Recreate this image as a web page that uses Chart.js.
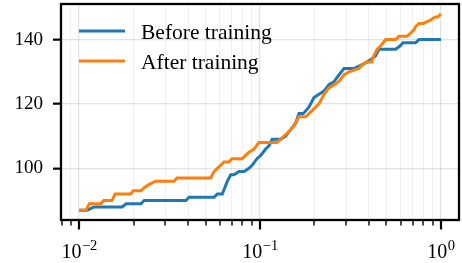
<!DOCTYPE html>
<html><head><meta charset="utf-8">
<script src="https://cdn.jsdelivr.net/npm/chart.js@4/dist/chart.umd.min.js"></script>
<style>html,body{margin:0;padding:0;background:#fff}</style>
</head><body>
<canvas id="c" width="462" height="263"></canvas>
<script>
const seriesNames = ['Before training', 'After training'];
const seriesColors = ['#1f77b4', '#ff7f0e'];

const beforeX = [0.01, 0.0111, 0.0121, 0.0173, 0.0182, 0.022, 0.0229, 0.039, 0.0405, 0.0557,
  0.0581, 0.0619, 0.066, 0.0689, 0.0718, 0.0766, 0.0816, 0.0869, 0.0907, 0.0962,
  0.1009, 0.1075, 0.1121, 0.1169, 0.1301, 0.1387, 0.1477, 0.1574, 0.1642, 0.1736,
  0.1862, 0.1988, 0.2118, 0.2257, 0.2405, 0.2571, 0.2732, 0.2911, 0.3306, 0.36,
  0.39, 0.4141, 0.4357, 0.4544, 0.562, 0.594, 0.617, 0.7246, 0.756, 1.0];
const beforeY = [87, 87, 88, 88, 89, 89, 90, 90, 91, 91,
  92, 92, 96, 98, 98, 99, 99, 100, 101, 103,
  104, 106, 107, 109, 109, 110, 112, 114, 117, 117,
  119, 122, 123, 124, 126, 127, 129, 131, 131, 132,
  133, 134, 135, 137, 137, 138, 139, 139, 140, 140];

const afterX = [0.01, 0.0109, 0.0114, 0.0132, 0.0137, 0.0152, 0.0158, 0.0193, 0.0199, 0.022,
  0.0229, 0.0244, 0.0265, 0.0335, 0.0348, 0.0534, 0.0557, 0.0581, 0.0607, 0.0633,
  0.0674, 0.07, 0.0798, 0.0869, 0.0927, 0.0985, 0.1241, 0.1357, 0.1477, 0.1574,
  0.1642, 0.1789, 0.1945, 0.2118, 0.2257, 0.2405, 0.2571, 0.2732, 0.2911, 0.3102,
  0.3524, 0.3647, 0.3886, 0.4141, 0.4264, 0.4447, 0.4643, 0.4949, 0.562, 0.586,
  0.649, 0.68, 0.709, 0.7246, 0.756, 0.80, 0.8725, 0.93, 0.96, 1.0];
const afterY = [87, 87, 89, 89, 90, 90, 92, 92, 93, 93,
  94, 95, 96, 96, 97, 97, 99, 100, 101, 102,
  102, 103, 103, 105, 106, 108, 108, 110, 112, 114,
  116, 116, 118, 120, 123, 125, 126, 127, 129, 130,
  131, 132, 133, 133, 135, 137, 138, 140, 140, 141,
  141, 142, 143, 144, 145, 145, 146, 147, 147, 148];

const xTickValues = [0.008, 0.009, 0.01, 0.02, 0.03, 0.04, 0.05, 0.06, 0.07, 0.08, 0.09,
  0.1, 0.2, 0.3, 0.4, 0.5, 0.6, 0.7, 0.8, 0.9, 1];
const xMajorValues = [0.01, 0.1, 1];
const xMajorBase = '10';
const xMajorExponents = ['\u22122', '\u22121', '0'];
const yTickValues = [100, 120, 140];

const FONT = 'Liberation Serif';
Chart.defaults.font.family = FONT;
Chart.defaults.font.size = 19;
Chart.defaults.color = '#000';

const toPts = (xs, ys) => xs.map((x, i) => ({x: x, y: ys[i]}));
const isMajor = v => xMajorValues.some(m => Math.abs(m - v) < 1e-9);

const framePlugin = {
  id: 'frame',
  afterDraw(chart) {
    const ctx = chart.ctx, a = chart.chartArea, xs = chart.scales.x;
    ctx.save();
    ctx.strokeStyle = '#000';
    xs.ticks.forEach(t => {
      const px = xs.getPixelForValue(t.value);
      if (px < a.left - 1 || px > a.right + 1) return;
      const maj = isMajor(t.value);
      ctx.lineWidth = maj ? 2.2 : 1.4;
      ctx.beginPath();
      ctx.moveTo(Math.round(px), a.bottom);
      ctx.lineTo(Math.round(px), a.bottom + (maj ? 9.5 : 5.5));
      ctx.stroke();
    });
    // x tick labels (base with raised exponent)
    ctx.fillStyle = '#000';
    ctx.textBaseline = 'alphabetic';
    ctx.textAlign = 'left';
    const bigF = '20px "' + FONT + '"', smallF = '14.5px "' + FONT + '"';
    xMajorValues.forEach((v, k) => {
      const px = xs.getPixelForValue(v);
      ctx.font = bigF;
      const w1 = ctx.measureText(xMajorBase).width;
      ctx.font = smallF;
      const w2 = ctx.measureText(xMajorExponents[k]).width;
      const x0 = px - (w1 + w2) / 2;
      ctx.font = bigF;
      ctx.fillText(xMajorBase, x0, a.bottom + 38);
      ctx.font = smallF;
      ctx.fillText(xMajorExponents[k], x0 + w1 + 0.5, a.bottom + 30);
    });
    ctx.lineWidth = 2.3;
    ctx.strokeRect(a.left, a.top, a.right - a.left, a.bottom - a.top);
    chart.data.datasets.forEach((ds, i) => {
      const y = a.top + 27 + i * 30;
      ctx.strokeStyle = ds.borderColor;
      ctx.lineWidth = 3;
      ctx.beginPath();
      ctx.moveTo(a.left + 18, y);
      ctx.lineTo(a.left + 64, y);
      ctx.stroke();
      ctx.fillStyle = '#000';
      ctx.font = '21.5px "' + FONT + '"';
      ctx.textBaseline = 'alphabetic';
      ctx.textAlign = 'left';
      ctx.fillText(ds.label, a.left + 80, y + 8.3);
    });
    ctx.restore();
  }
};

const zeroPad = s => { s.paddingLeft = 0; s.paddingRight = 0; s.paddingTop = 0; s.paddingBottom = 0; };

new Chart(document.getElementById('c'), {
  type: 'line',
  data: {
    datasets: [
      {label: seriesNames[0], data: toPts(beforeX, beforeY), borderColor: seriesColors[0],
       backgroundColor: seriesColors[0], borderWidth: 3, pointRadius: 0, tension: 0, order: 1},
      {label: seriesNames[1], data: toPts(afterX, afterY), borderColor: seriesColors[1],
       backgroundColor: seriesColors[1], borderWidth: 3, pointRadius: 0, tension: 0, order: 0}
    ]
  },
  options: {
    responsive: false,
    animation: false,
    devicePixelRatio: 1,
    layout: {padding: {top: 4, right: 3, left: 0, bottom: 0}},
    plugins: {legend: {display: false}, tooltip: {enabled: false}},
    scales: {
      x: {
        type: 'logarithmic',
        min: Math.pow(10, -2.1),
        max: Math.pow(10, 0.1),
        afterBuildTicks(scale) {
          scale.ticks = xTickValues.map(v => ({value: v, major: isMajor(v)}));
        },
        afterFit(scale) { scale.height = 43; zeroPad(scale); },
        border: {display: false},
        grid: {
          drawTicks: false,
          color: c => (c.tick && isMajor(c.tick.value)) ? 'rgba(0,0,0,0.11)' : 'rgba(0,0,0,0.055)',
          lineWidth: c => (c.tick && isMajor(c.tick.value)) ? 1.3 : 1
        },
        ticks: {display: false, autoSkip: false, maxRotation: 0}
      },
      y: {
        type: 'linear',
        min: 83.95,
        max: 151.05,
        afterBuildTicks(scale) {
          scale.ticks = yTickValues.map(v => ({value: v}));
        },
        afterFit(scale) { scale.width = 61; zeroPad(scale); },
        border: {display: false},
        grid: {color: 'rgba(0,0,0,0.11)', lineWidth: 1.3, drawTicks: true,
               tickLength: 8, tickColor: '#000', tickWidth: 2.2},
        ticks: {padding: 10, font: {size: 19}}
      }
    }
  },
  plugins: [framePlugin]
});
</script>
</body></html>
